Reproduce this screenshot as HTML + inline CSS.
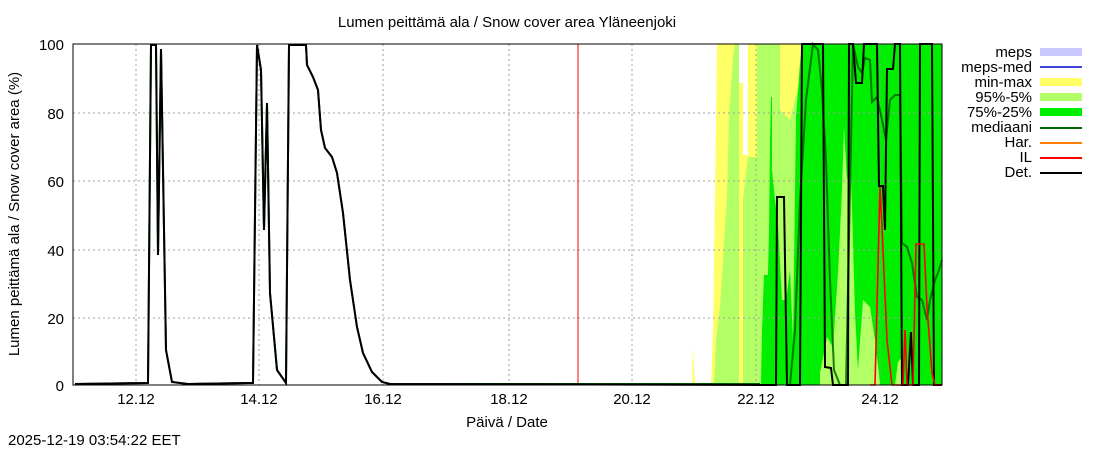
<!DOCTYPE html>
<html><head><meta charset="utf-8"><style>
body{margin:0;background:#fff}
svg text{font-family:"Liberation Sans",sans-serif;font-size:15px;fill:#000}
</style></head><body>
<svg width="1100" height="450" xmlns="http://www.w3.org/2000/svg">
<rect width="1100" height="450" fill="#fff"/>
<text x="507" y="27" text-anchor="middle" font-size="14">Lumen peittämä ala / Snow cover area Yläneenjoki</text>
<polygon points="692,385 693,346 695,385" fill="#ffff66"/>
<polygon points="711,385 713,330 715,200 717,44 942,44 942,385" fill="#ffff66"/>
<polygon points="739,44 748,44 748,155 743,155 743,83 739,83" fill="#fff"/>
<polygon points="714,385 716,340 720,307 727,197 729,118 733,57 735,44 739,44 739,385 743,385 743,200 748,157 757,157 757,44 780,44 780,110 790,120 800,80 942,80 942,385" fill="#b3ff66"/>
<polygon points="761,385 762,330 764,275 768,275 769,230 770,140 771,97 772,97 772,170 775,200 778,225 782,300 786,300 790,270 793,340 796,117 800,63 802,44 942,44 942,385" fill="#00ee00"/>
<polygon points="820,385 820,373 827,337 833,347 838,273 842,190 844,127 847,180 850,153 852,207 855,313 858,370 863,300 870,307 875,340 880,383 880,385" fill="#b3ff66"/>
<polygon points="895,385 898,362 902,357 904,385" fill="#b3ff66"/>
<g stroke="#a0a0a0" stroke-dasharray="2,3" stroke-width="1">
<line x1="73" y1="113" x2="942" y2="113"/><line x1="73" y1="181" x2="942" y2="181"/>
<line x1="73" y1="250" x2="942" y2="250"/><line x1="73" y1="318" x2="942" y2="318"/>
<line x1="136" y1="44" x2="136" y2="385"/><line x1="259" y1="44" x2="259" y2="385"/>
<line x1="383" y1="44" x2="383" y2="385"/><line x1="509" y1="44" x2="509" y2="385"/>
<line x1="632" y1="44" x2="632" y2="385"/><line x1="756" y1="44" x2="756" y2="385"/>
<line x1="880" y1="44" x2="880" y2="385"/>
</g>
<line x1="578" y1="44" x2="578" y2="385" stroke="#ff0000" stroke-width="1"/>
<polyline fill="none" stroke="#006600" stroke-width="2" opacity="0.85" points="790,385 795,330 800,200 806,100 813,44 818,50 822,90 826,160 830,280 834,370 840,385 846,385 853,44 858,67 862,73 865,58 870,60 872,102 877,97 882,120 886,140 890,100 895,95 900,95 902,243 907,247 912,263 917,297 922,300 927,320 930,300 935,280 938,273 942,260"/>
<polyline fill="none" stroke="#006600" stroke-width="2" points="75,384 148,383 151,45 156,45 158,255 161,49 166,350 172,382 188,384 248,383 253,383 257,45 261,70 264,230 267,103 270,293 277,370 286,383 289,45 306,45 307,65 313,77 318,90 321,130 325,148 332,157 337,173 343,213 350,280 357,327 363,353 372,372 382,382 390,384 760,384"/>
<polyline fill="none" stroke="#000" stroke-width="2" points="75,384 148,383 151,45 156,45 158,255 161,49 166,350 172,382 188,384 248,383 253,383 257,45 261,70 264,230 267,103 270,293 277,370 286,383 289,45 306,45 307,65 313,77 318,90 321,130 325,148 332,157 337,173 343,213 350,280 357,327 363,353 372,372 382,382 390,384 776,385 777,197 784,197 787,385 800,385 802,44 823,44 825,367 831,368 833,385 848,385 849,44 853,44 856,83 862,83 864,44 877,44 879,186 883,186 885,230 887,69 893,69 895,44 900,44 902,385 908,385 911,332 913,385 919,385 920,44 932,44 934,385 942,385"/>
<polyline fill="none" stroke="#ff0000" stroke-width="1.6" points="870,385 875,385 880,187 882,227 887,340 892,385 903,385 905,330 907,385 913,385 916,244 924,244 927,307 932,373 935,385 942,385"/>
<rect x="73" y="44" width="869" height="341" fill="none" stroke="#000" stroke-width="1"/>
<g text-anchor="end">
<text x="64" y="50">100</text><text x="64" y="119">80</text><text x="64" y="187">60</text>
<text x="64" y="256">40</text><text x="64" y="324">20</text><text x="64" y="391">0</text>
</g>
<g text-anchor="middle">
<text x="136" y="404">12.12</text><text x="259" y="404">14.12</text><text x="383" y="404">16.12</text>
<text x="509" y="404">18.12</text><text x="632" y="404">20.12</text><text x="756" y="404">22.12</text>
<text x="880" y="404">24.12</text>
<text x="507" y="427">Päivä / Date</text>
</g>
<text transform="translate(19,214) rotate(-90)" text-anchor="middle">Lumen peittämä ala / Snow cover area (%)</text>
<text x="8" y="445">2025-12-19 03:54:22 EET</text>
<g text-anchor="end">
<text x="1032" y="57">meps</text><text x="1032" y="72">meps-med</text><text x="1032" y="87">min-max</text>
<text x="1032" y="102">95%-5%</text><text x="1032" y="117">75%-25%</text><text x="1032" y="132">mediaani</text>
<text x="1032" y="147">Har.</text><text x="1032" y="162">IL</text><text x="1032" y="177">Det.</text>
</g>
<rect x="1040" y="48" width="42" height="8" fill="#c8c8ff"/>
<line x1="1040" y1="67" x2="1082" y2="67" stroke="#4444dd" stroke-width="2"/>
<rect x="1040" y="78" width="42" height="8" fill="#ffff66"/>
<rect x="1040" y="93" width="42" height="8" fill="#b3ff66"/>
<rect x="1040" y="108" width="42" height="8" fill="#00ee00"/>
<line x1="1040" y1="128" x2="1082" y2="128" stroke="#006600" stroke-width="2"/>
<line x1="1040" y1="143" x2="1082" y2="143" stroke="#ff8000" stroke-width="2"/>
<line x1="1040" y1="158" x2="1082" y2="158" stroke="#ff0000" stroke-width="2"/>
<line x1="1040" y1="173" x2="1082" y2="173" stroke="#000" stroke-width="2"/>
</svg>
</body></html>
